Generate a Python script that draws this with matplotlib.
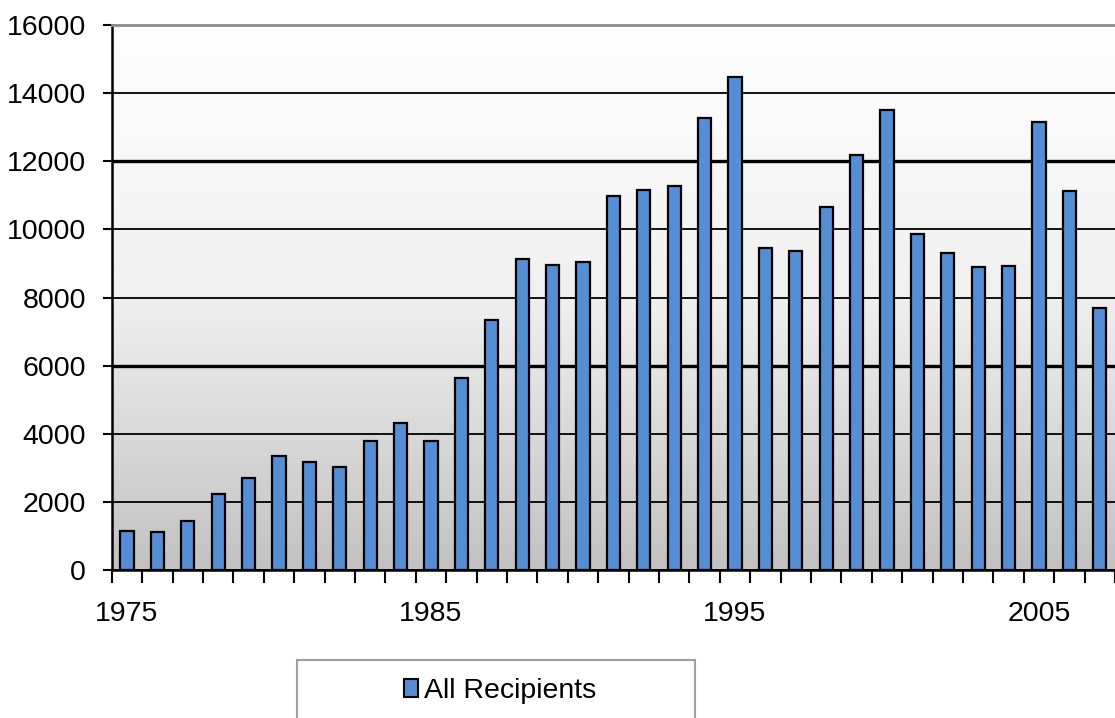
import numpy as np
import matplotlib.pyplot as plt
from matplotlib.colors import LinearSegmentedColormap
from matplotlib.patches import Rectangle, Patch

plt.rcParams['font.family'] = ['Liberation Sans', 'DejaVu Sans']

# Recipients per year
years = list(range(1975, 2008))
recipients = [1150, 1110, 1440, 2230, 2700, 3350, 3170, 3020, 3790, 4330,
              3790, 5640, 7340, 9130, 8950, 9040, 10980, 11160, 11270, 13260,
              14470, 9450, 9370, 10650, 12170, 13500, 9860, 9300, 8900, 8930,
              13140, 11130, 7700]
label_years = [1975, 1985, 1995, 2005]

fig = plt.figure(figsize=(11.15, 7.18), dpi=100)
ax = fig.add_axes([0.1003, 0.2061, 0.8997, 0.7591])

x = np.arange(len(years))
ax.set_xlim(-0.5, len(years) - 0.5)
ax.set_ylim(0, 16000)

# grey gradient background
grad = np.linspace(1, 0, 256).reshape(-1, 1)
bg = LinearSegmentedColormap.from_list('bg', ['#c2c2c2', '#f0f0f0', '#ffffff'])
ax.imshow(grad, cmap=bg, extent=[0, 1, 0, 1], transform=ax.transAxes,
          aspect='auto', zorder=0)

ax.bar(x, recipients, width=0.43, color='#558ed5', edgecolor='black',
       linewidth=1.6, zorder=3, label='All Recipients')

ax.set_yticks(np.arange(0, 16001, 2000))
ax.yaxis.grid(True, color='black', linewidth=1.3, zorder=1)
for i, gl in enumerate(ax.get_ygridlines()):
    if i in (3, 6):
        gl.set_linewidth(2.4)
ax.set_axisbelow(True)

# category boundaries carry the tick marks; labels sit under bar centres
ax.set_xticks([years.index(y) for y in label_years])
ax.set_xticklabels([str(y) for y in label_years])
ax.set_xticks(np.arange(-0.5, len(years)), minor=True)
ax.tick_params(axis='x', which='major', length=0, pad=22, labelsize=20.5)
ax.tick_params(axis='x', which='minor', length=9, width=1.5, direction='out')
ax.tick_params(axis='y', length=6.5, width=1.5, direction='out', labelsize=20.5, pad=12)

ax.spines['left'].set_linewidth(1.8)
ax.spines['bottom'].set_linewidth(1.8)
ax.spines['top'].set_color('#8c8c8c')
ax.spines['top'].set_linewidth(2)
ax.spines['right'].set_visible(False)

# legend box below the plot
fig.patches.append(Rectangle((297 / 1115, -0.1), 398 / 1115, 0.1 + 58 / 718,
                             transform=fig.transFigure, facecolor='white',
                             edgecolor='#a0a0a0', linewidth=1.5))
fig.legend(handles=[Patch(facecolor='#558ed5', edgecolor='black', linewidth=1.5,
                          label='All Recipients')],
           loc='center', bbox_to_anchor=(500 / 1115, 1 - 691 / 718),
           frameon=False, fontsize=20.5, handlelength=0.5, handleheight=0.62,
           handletextpad=0.18)

plt.savefig('out.png', dpi=100)
